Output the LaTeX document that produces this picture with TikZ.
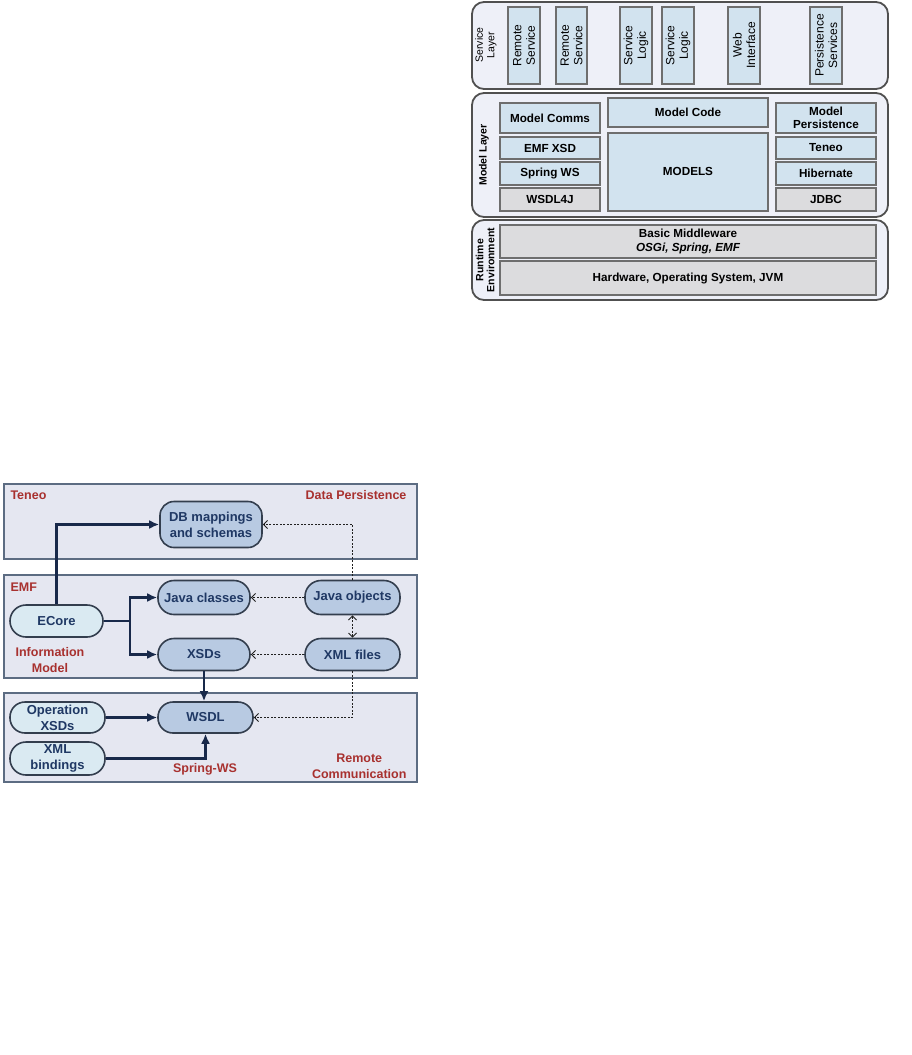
\documentclass[tikz,border=0pt]{standalone}
\usepackage{fontspec}
\setmainfont{Liberation Sans}
\usetikzlibrary{arrows.meta}
\definecolor{layerfill}{HTML}{EEF0F8}
\definecolor{layerdraw}{HTML}{505050}
\definecolor{boxblue}{HTML}{D2E3EF}
\definecolor{boxgray}{HTML}{DCDCDE}
\definecolor{boxdraw}{HTML}{6E6E6E}
\definecolor{panfill}{HTML}{E5E7F1}
\definecolor{pandraw}{HTML}{5C6C82}
\definecolor{nodeblue}{HTML}{B8CAE2}
\definecolor{nodelight}{HTML}{DAEAF2}
\definecolor{nodedraw}{HTML}{333E4E}
\definecolor{navy}{HTML}{1F3864}
\definecolor{arrowc}{HTML}{18294A}
\definecolor{redlab}{HTML}{A8312F}
\definecolor{dotc}{HTML}{202020}
\tikzset{
  layer/.style={draw=layerdraw, line width=1.8pt, fill=layerfill, rounded corners=12pt},
  bbox/.style={draw=boxdraw, line width=1.3pt, fill=boxblue},
  gbox/.style={draw=boxdraw, line width=1.3pt, fill=boxgray},
  boxtxt/.style={font=\fontsize{11.7}{13.5}\selectfont\bfseries, align=center, text=black},
  vtxt/.style={font=\fontsize{12}{13.5}\selectfont, align=center, text=black, rotate=90},
  laytxt/.style={font=\fontsize{10.5}{11.5}\selectfont, align=center, text=black, rotate=90},
  panel/.style={draw=pandraw, line width=2.5pt, fill=panfill},
  pill/.style={draw=nodedraw, line width=1.6pt, fill=nodeblue, rounded corners=14pt,
     inner sep=0pt, font=\fontsize{13}{16}\selectfont\bfseries, text=navy, align=center},
  lpill/.style={pill, fill=nodelight},
  redtxt/.style={font=\fontsize{12.5}{16}\selectfont\bfseries, text=redlab, align=center},
  thk/.style={draw=arrowc, line width=2.8pt, -{Latex[length=10pt,width=9pt]}},
  dtd/.style={draw=dotc, line width=1pt, dash pattern=on 2pt off 1.5pt, -{Straight Barb[length=4pt,width=8pt]}},
}
\begin{document}
\begin{tikzpicture}[x=1pt,y=-1pt]
\useasboundingbox (0,0) rectangle (912,1055);

% ===================== top-right: layers =====================
\path[layer] (472,2) rectangle (888,89);
\node[laytxt] (svclab) at (486,45) {Service\\Layer};
\path[bbox] (508,7) rectangle (540,84);
\node[vtxt] (rs1) at (524,45.5) {Remote\\Service};
\path[bbox] (556,7) rectangle (587,84);
\node[vtxt] (rs2) at (571.5,45.5) {Remote\\Service};
\path[bbox] (620,7) rectangle (652,84);
\node[vtxt] (sl1) at (636,45.5) {Service\\Logic};
\path[bbox] (662,7) rectangle (694,84);
\node[vtxt] (sl2) at (678,45.5) {Service\\Logic};
\path[bbox] (728,7) rectangle (760,84);
\node[vtxt] (wi) at (744,45.5) {Web\\Interface};
\path[bbox] (810,7) rectangle (842,84);
\node[vtxt] (ps) at (826,45.5) {Persistence\\Services};

\path[layer] (472,93) rectangle (888,217);
\node[laytxt, font=\fontsize{10.5}{11.5}\selectfont\bfseries] (mlab) at (484,155) {Model Layer};
\path[bbox] (500,103) rectangle (600,133);
\node[boxtxt] (mc) at (550,118) {Model Comms};
\path[bbox] (500,137) rectangle (600,159);
\node[boxtxt] (ex) at (550,148) {EMF XSD};
\path[bbox] (500,162) rectangle (600,185);
\node[boxtxt] (sw) at (550,173.5) {Spring WS};
\path[gbox] (500,188) rectangle (600,211);
\node[boxtxt] (wj) at (550,199.5) {WSDL4J};
\path[bbox] (608,98) rectangle (768,127);
\node[boxtxt] (mcode) at (688,112.5) {Model Code};
\path[bbox] (608,133) rectangle (768,211);
\node[boxtxt] (models) at (688,171) {MODELS};
\path[bbox] (776,103) rectangle (876,133);
\node[boxtxt] (mp) at (826,118) {Model\\Persistence};
\path[bbox] (776,137) rectangle (876,159);
\node[boxtxt] (ten) at (826,148) {Teneo};
\path[bbox] (776,162) rectangle (876,185);
\node[boxtxt] (hib) at (826,173.5) {Hibernate};
\path[gbox] (776,188) rectangle (876,211);
\node[boxtxt] (jdbc) at (826,199.5) {JDBC};

\path[layer] (472,220) rectangle (888,300);
\node[laytxt, font=\fontsize{10.5}{11}\selectfont\bfseries] (rlab) at (485,260) {Runtime\\Environment};
\path[gbox] (500,225) rectangle (876,258);
\node[boxtxt] (bm) at (688,241.5) {Basic Middleware\\\itshape OSGi, Spring, EMF};
\path[gbox] (500,261) rectangle (876,295);
\node[boxtxt] (hw) at (688,278) {Hardware, Operating System, JVM};

% ===================== bottom-left: flows =====================
\path[panel] (4,484) rectangle (417,559);
\node[redtxt, anchor=west] (tenl) at (7,495) {Teneo};
\node[redtxt, anchor=east] (dpl) at (410,495) {Data Persistence};

\path[panel] (4,575) rectangle (417,678);
\node[redtxt, anchor=west] (emfl) at (7,587) {EMF};
\node[redtxt] (iml) at (50,660) {Information\\Model};

\path[panel] (4,693) rectangle (417,782);
\node[redtxt] (swl) at (205,769) {Spring-WS};
\node[redtxt, anchor=east] (rcl) at (410,766) {Remote\\Communication};

\node[pill, minimum width=102pt, minimum height=46pt] (db) at (211,524.5) {DB mappings\\and schemas};
\node[lpill, rounded corners=16pt, minimum width=93pt, minimum height=32pt] (ecore) at (56.5,621) {ECore};
\node[pill, rounded corners=16pt, minimum width=92pt, minimum height=34pt] (jc) at (204,597.5) {Java classes};
\node[pill, rounded corners=16pt, minimum width=92pt, minimum height=32pt] (xsd) at (204,654.5) {XSDs};
\node[pill, rounded corners=16pt, minimum width=95pt, minimum height=34pt] (jo) at (352.5,597.5) {Java objects};
\node[pill, rounded corners=16pt, minimum width=95pt, minimum height=32pt] (xml) at (352.5,654.5) {XML files};
\node[lpill, rounded corners=15pt, minimum width=95pt, minimum height=31pt] (opx) at (57.5,717.5) {Operation\\XSDs};
\node[lpill, rounded corners=16pt, minimum width=95pt, minimum height=33pt] (xb) at (57.5,758.5) {XML\\bindings};
\node[pill, rounded corners=15pt, minimum width=95pt, minimum height=31pt] (wsdl) at (205.5,717.5) {WSDL};

\coordinate (split) at (130,621);
\draw[thk] (ecore.north) |- (db.west);
\draw[thk] (ecore.east) -- (split) |- (jc.west);
\draw[thk] (split) |- (xsd.west);
\draw[thk] (xsd.south) -- (xsd.south |- wsdl.north);
\draw[thk] (opx.east) -- (wsdl.west);
\draw[thk] (xb.east) -| (wsdl.south);

\draw[dtd] (jo.north) |- (db.east);
\draw[dtd] (jo.west) -- (jc.east);
\draw[dtd] (xml.west) -- (xsd.east);
\draw[dtd, {Straight Barb[length=4pt,width=8pt]}-{Straight Barb[length=4pt,width=8pt]}] (jo.south) -- (xml.north);
\draw[dtd] (xml.south) |- (wsdl.east);
\end{tikzpicture}
\end{document}
